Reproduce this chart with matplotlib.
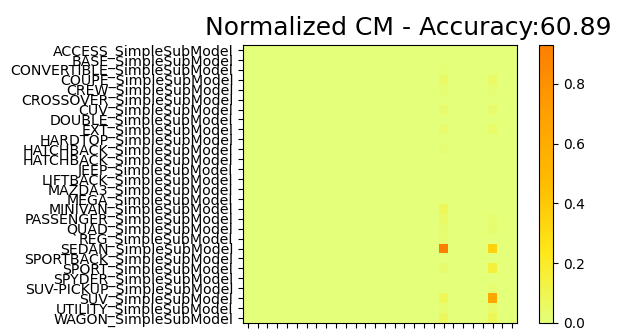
import numpy as np
import matplotlib
matplotlib.use("Agg")
import matplotlib.pyplot as plt

classes = ["ACCESS", "BASE", "CONVERTIBLE", "COUPE", "CREW", "CROSSOVER", "CUV",
           "DOUBLE", "EXT", "HARDTOP", "HATCHBACK", "HATCHBACK", "JEEP", "LIFTBACK",
           "MAZDA3", "MEGA", "MINIVAN", "PASSENGER", "QUAD", "REG", "SEDAN",
           "SPORTBACK", "SPORT", "SPYDER", "SUV-PICKUP", "SUV", "UTILITY", "WAGON"]
labels = [c + "_SimpleSubModel" for c in classes]

# predicted-as-SEDAN column (index 20) and predicted-as-SUV column (index 25)
sedan_col = [0, 0, 0.01, 0.05, 0.02, 0, 0.035, 0, 0.035, 0, 0.012, 0, 0, 0,
             0, 0, 0.08, 0.05, 0.025, 0.02, 0.93, 0, 0.03, 0, 0, 0.08, 0.02, 0.07]
suv_col = [0, 0, 0, 0.05, 0.015, 0, 0.035, 0, 0.04, 0, 0, 0, 0, 0,
           0, 0, 0, 0.02, 0.025, 0, 0.35, 0, 0.15, 0, 0.02, 0.65, 0.04, 0.08]
accuracy = 60.89

n = len(labels)
cm = np.zeros((n, n))
cm[:, 20] = sedan_col
cm[:, 25] = suv_col

fig = plt.figure(figsize=(6.17, 3.31), dpi=100)
ax = fig.add_axes([243/617, 8/331, 274/617, 278/331])
im = ax.imshow(cm, cmap="Wistia", aspect="auto", interpolation="nearest")
# rotated x labels run off the bottom edge, as in the original crop
ax.set_xticks(range(n))
ax.set_xticklabels(labels, rotation=90)
ax.set_yticks(range(n))
ax.set_yticklabels(labels, fontsize=10.2)

cax = fig.add_axes([539/617, 8/331, 14/617, 278/331])
fig.colorbar(im, cax=cax, ticks=[0.0, 0.2, 0.4, 0.6, 0.8])

fig.text(408/617, 1 - 28/331, "Normalized CM - Accuracy:%.2f" % accuracy,
         fontsize=18, ha="center", va="center")

fig.savefig("out.png", dpi=100)
